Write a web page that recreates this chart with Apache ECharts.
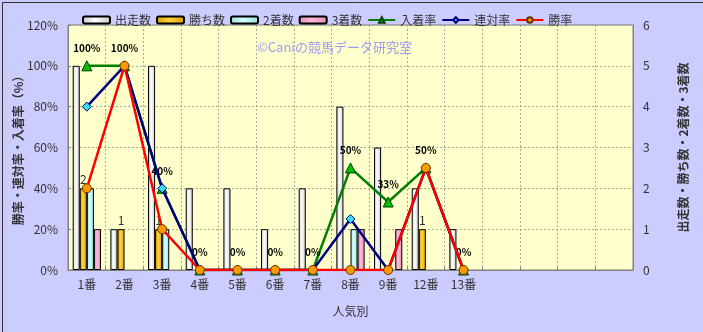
<!DOCTYPE html>
<html><head><meta charset="utf-8">
<script src="https://cdn.jsdelivr.net/npm/echarts@6/dist/echarts.min.js"></script>
<style>html,body{margin:0;padding:0;background:#ccccff;}#c{width:703px;height:332px;box-sizing:border-box;}</style>
</head><body><div id="c"></div>
<script>
const categories = ['1番','2番','3番','4番','5番','6番','7番','8番','9番','12番','13番','','','',''];
const runs   = [5,1,5,2,2,1,2,4,3,2,1];
const wins   = [2,1,1,0,0,0,0,0,0,1,0];
const second = [2,0,1,0,0,0,0,1,0,0,0];
const third  = [1,0,0,0,0,0,0,1,1,0,0];
const placeRate = [100,100,40,0,0,0,0,50,33.3,50,0];
const rentaiRate = [80,100,40,0,0,0,0,25,0,50,0];
const winRate = [40,100,20,0,0,0,0,0,0,50,0];
const leftTicks = [0,20,40,60,80,100,120];
const rightTicks = [0,1,2,3,4,5,6];

const FONT = '"Noto Sans CJK JP", sans-serif';
const TXT = '#333333';
const nz = a => a.map(v => v === 0 ? '-' : v);
function grad(edge, mid){
  return new echarts.graphic.LinearGradient(0,0,1,0,[{offset:0,color:edge},{offset:0.45,color:mid},{offset:1,color:edge}]);
}
const chart = echarts.init(document.getElementById('c'), null, {renderer:'canvas'});
const barCommon = {type:'bar', yAxisIndex:1, barCategoryGap:'25%', barGap:'0%'};
chart.setOption({
  animation:false,
  backgroundColor:'#ccccff',
  textStyle:{fontFamily:FONT},
  graphic:[
    {type:'rect', left:0, top:0, shape:{width:702, height:331}, style:{fill:'none', stroke:'#333', lineWidth:1}, silent:true},
    {type:'text', left:257, top:41, style:{text:'©Caniの競馬データ研究室', fill:'#9c9cf4', font:'13px '+FONT}, silent:true, z:0}
  ],
  legend:{
    top:9, left:77, itemWidth:27, itemHeight:7, itemGap:5,
    textStyle:{fontSize:12, color:TXT, fontFamily:FONT},
    data:['出走数','勝ち数','2着数','3着数','入着率','連対率','勝率']
  },
  grid:{left:68, right:70, top:25, bottom:62, outerBoundsMode:'none', containLabel:false, show:true, backgroundColor:'#ffffcc', borderColor:'#808080', borderWidth:1},
  xAxis:{
    type:'category', data:categories, boundaryGap:true,
    name:'人気別', nameLocation:'middle', nameGap:35, nameMoveOverlap:false,
    nameTextStyle:{fontSize:12, color:TXT, fontFamily:FONT},
    axisLine:{lineStyle:{color:'#808080'}},
    axisTick:{show:true, inside:true, length:3, lineStyle:{color:'#808080'}},
    axisLabel:{color:TXT, fontSize:12, margin:8, interval:0, fontFamily:FONT},
    splitLine:{show:true, interval:0, lineStyle:{color:'#a8a89a', type:[2,2]}}
  },
  yAxis:[
    {type:'value', min:leftTicks[0], max:leftTicks[leftTicks.length-1], interval:20,
     name:'勝率・連対率・入着率（%）', nameLocation:'middle', nameRotate:90, nameGap:44, nameMoveOverlap:false,
     nameTextStyle:{fontSize:12, color:TXT, fontWeight:'bold', fontFamily:FONT},
     axisLine:{show:true, lineStyle:{color:'#808080'}},
     axisTick:{show:true, inside:true, length:3, lineStyle:{color:'#808080'}},
     axisLabel:{color:TXT, fontSize:12, margin:10, formatter:v=>v+'%', fontFamily:FONT},
     splitLine:{show:true, lineStyle:{color:'#a8a89a', type:[2,2]}}},
    {type:'value', min:rightTicks[0], max:rightTicks[rightTicks.length-1], interval:1,
     name:'出走数・勝ち数・2着数・3着数', nameLocation:'middle', nameRotate:90, nameGap:44, nameMoveOverlap:false,
     nameTextStyle:{fontSize:12, color:TXT, fontWeight:'bold', fontFamily:FONT},
     axisLine:{show:true, lineStyle:{color:'#808080'}},
     axisTick:{show:false},
     axisLabel:{color:TXT, fontSize:12, margin:10, fontFamily:FONT},
     splitLine:{show:false}}
  ],
  series:[
    Object.assign({}, barCommon, {name:'出走数', data:nz(runs),
      itemStyle:{color:grad('#c8c8c8','#ffffff'), borderColor:'#000', borderWidth:1}}),
    Object.assign({}, barCommon, {name:'勝ち数', data:nz(wins),
      itemStyle:{color:grad('#d9a200','#ffd040'), borderColor:'#000', borderWidth:1},
      label:{show:true, position:'top', distance:3, color:TXT, fontSize:12, fontFamily:FONT}}),
    Object.assign({}, barCommon, {name:'2着数', data:nz(second),
      itemStyle:{color:grad('#99dede','#d8ffff'), borderColor:'#000', borderWidth:1}}),
    Object.assign({}, barCommon, {name:'3着数', data:nz(third),
      itemStyle:{color:grad('#e090b8','#ffb8d8'), borderColor:'#000', borderWidth:1}}),
    {type:'line', name:'入着率', yAxisIndex:0, data:placeRate, z:5,
     lineStyle:{color:'#008000', width:2.5}, symbol:'triangle', symbolSize:10,
     itemStyle:{color:'#00c000', borderColor:'#004000', borderWidth:1},
     label:{show:true, position:'top', distance:7, color:'#000', fontSize:10, fontWeight:'bold', fontFamily:FONT, formatter:p=>Math.round(p.value)+'%'}},
    {type:'line', name:'連対率', yAxisIndex:0, data:rentaiRate, z:6,
     lineStyle:{color:'#000080', width:2.5}, symbol:'diamond', symbolSize:9,
     itemStyle:{color:'#33e0f0', borderColor:'#000080', borderWidth:1}},
    {type:'line', name:'勝率', yAxisIndex:0, data:winRate, z:7,
     lineStyle:{color:'#ff0000', width:2.5}, symbol:'circle', symbolSize:9,
     itemStyle:{color:'#ff9900', borderColor:'#663300', borderWidth:1}}
  ]
});
</script></body></html>
